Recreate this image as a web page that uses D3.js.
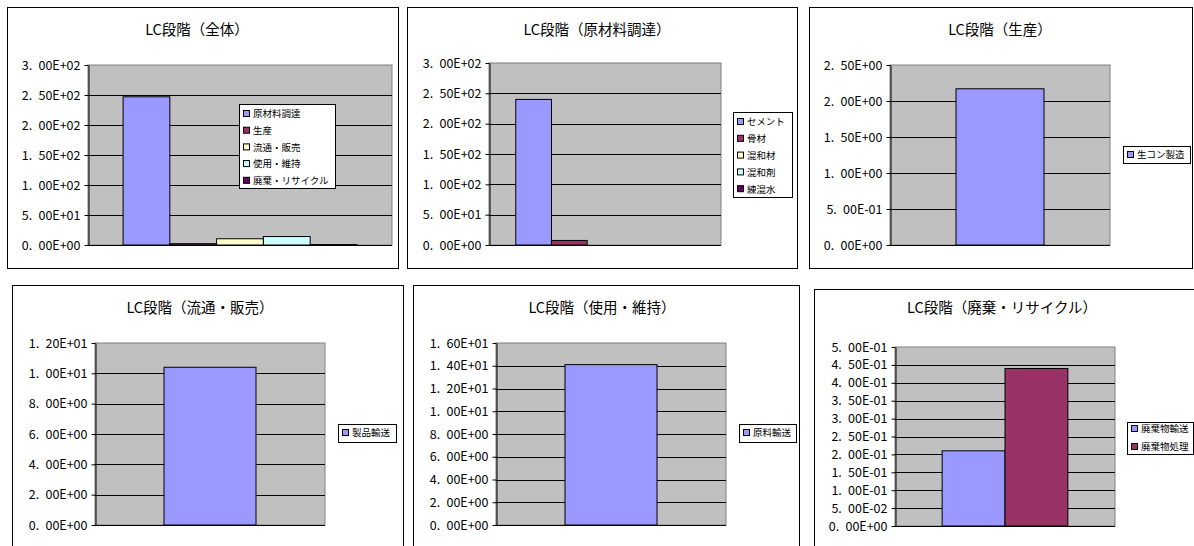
<!DOCTYPE html>
<html><head><meta charset="utf-8">
<script src="https://cdn.jsdelivr.net/npm/d3@7"></script>
<style>body{margin:0;background:#fff}svg{display:block}</style>
</head><body><svg id="c" width="1194" height="546"></svg>
<script>
// ---------- data ----------
const titles = ["LC段階（全体）","LC段階（原材料調達）","LC段階（生産）","LC段階（流通・販売）","LC段階（使用・維持）","LC段階（廃棄・リサイクル）"];

const overallSeries = ["原材料調達","生産","流通・販売","使用・維持","廃棄・リサイクル"];
const overallValues = [247, 2.17, 10.4, 14.1, 0.65];

const rawSeries = ["セメント","骨材","混和材","混和剤","練混水"];
const rawValues = [240, 7.5, 0, 0, 0];

const prodSeries = ["生コン製造"];
const prodValues = [2.17];

const distSeries = ["製品輸送"];
const distValues = [10.4];

const useSeries = ["原料輸送"];
const useValues = [14.1];

const disposalSeries = ["廃棄物輸送","廃棄物処理"];
const disposalValues = [0.21, 0.44];

const ticksOverall  = [0,50,100,150,200,250,300];
const ticksRaw      = [0,50,100,150,200,250,300];
const ticksProd     = [0,0.5,1,1.5,2,2.5];
const ticksDist     = [0,2,4,6,8,10,12];
const ticksUse      = [0,2,4,6,8,10,12,14,16];
const ticksDisposal = [0,0.05,0.1,0.15,0.2,0.25,0.3,0.35,0.4,0.45,0.5];

const palette = ["#9999FF","#993366","#FFFFCC","#CCFFFF","#660066"];

// ---------- layout ----------
const layouts = [
  {frame:[7,7,391,261],   plot:[88,65,392,245],   title:[197,30], leg:{x:239,y:104,w:96,h:84,first:114,step:16.7}},
  {frame:[407,7,390,261], plot:[489,63,721,245],  title:[597,30], leg:{x:733,y:112,w:59,h:85,first:122,step:16.8}},
  {frame:[809,7,383,261], plot:[890,65,1110,245], title:[1000,30],leg:{x:1123,y:146,w:67,h:17,first:155,step:17}},
  {frame:[12,285,391,280],plot:[95,343,325,525],  title:[200,308],leg:{x:338,y:424,w:58,h:18,first:433,step:17}},
  {frame:[413,285,386,280],plot:[496,343,726,525],title:[602,308],leg:{x:739,y:424,w:57,h:18,first:433,step:17}},
  {frame:[814,289,390,280],plot:[895,347,1115,526],title:[1002,308],leg:{x:1127,y:422,w:66,h:32,first:429,step:18}}
];

const panels = [
  {series:overallSeries, values:overallValues, ticks:ticksOverall},
  {series:rawSeries, values:rawValues, ticks:ticksRaw},
  {series:prodSeries, values:prodValues, ticks:ticksProd},
  {series:distSeries, values:distValues, ticks:ticksDist},
  {series:useSeries, values:useValues, ticks:ticksUse},
  {series:disposalSeries, values:disposalValues, ticks:ticksDisposal}
];

function fmtE(v){
  const s = v.toExponential(2);
  const [m,e] = s.split("e");
  const sign = e[0];
  const exp = String(Math.abs(+e)).padStart(2,"0");
  const [a,b] = m.split(".");
  return a + ".\u2002" + b + "E" + sign + exp;
}

const FONT = "'Noto Sans CJK JP','Noto Sans',sans-serif";
const svg = d3.select("#c");

panels.forEach((p,i)=>{
  const L = layouts[i];
  const g = svg.append("g");
  g.append("rect").attr("x",L.frame[0]+0.5).attr("y",L.frame[1]+0.5)
    .attr("width",L.frame[2]).attr("height",L.frame[3])
    .attr("fill","#fff").attr("stroke","#000").attr("stroke-width",1);
  g.append("text").attr("x",L.title[0]).attr("y",L.title[1]).attr("dy","0.35em")
    .attr("text-anchor","middle").attr("font-family",FONT).attr("font-size",14.5)
    .attr("fill","#000").text(titles[i]);

  const [x0,y0,x1,y1] = L.plot;
  const y = d3.scaleLinear().domain([0, p.ticks[p.ticks.length-1]]).range([y1,y0]);
  const x = d3.scaleBand().domain(p.series).range([x0,x1]).paddingInner(0).paddingOuter(0.75);

  g.append("rect").attr("x",x0).attr("y",y0).attr("width",x1-x0).attr("height",y1-y0)
    .attr("fill","#C0C0C0").attr("stroke","#808080").attr("stroke-width",1);

  g.append("g").selectAll("line").data(p.ticks.slice(1,-1)).join("line")
    .attr("x1",x0).attr("x2",x1)
    .attr("y1",d=>Math.round(y(d))+0.5).attr("y2",d=>Math.round(y(d))+0.5)
    .attr("stroke","#000").attr("stroke-width",1);

  g.append("g").selectAll("rect").data(p.series.filter((d,k)=>p.values[k]>0)).join("rect")
    .attr("x",d=>x(d)).attr("width",x.bandwidth())
    .attr("y",d=>y(p.values[p.series.indexOf(d)]))
    .attr("height",d=>y1-y(p.values[p.series.indexOf(d)]))
    .attr("fill",d=>palette[p.series.indexOf(d)]).attr("stroke","#000").attr("stroke-width",1);

  const ax = g.append("g").attr("transform",`translate(${x0+0.5},0)`)
    .call(d3.axisLeft(y).tickValues(p.ticks).tickFormat(fmtE).tickSize(4).tickPadding(4).tickSizeOuter(0));
  ax.select(".domain").attr("stroke","#000");
  ax.selectAll(".tick line").attr("stroke","#000");
  ax.selectAll("text").attr("font-family",FONT).attr("font-size",12.5).attr("fill","#000");
  g.append("line").attr("x1",x0).attr("x2",x1).attr("y1",y1+0.5).attr("y2",y1+0.5).attr("stroke","#000");

  const lg = L.leg;
  g.append("rect").attr("x",lg.x+0.5).attr("y",lg.y+0.5).attr("width",lg.w).attr("height",lg.h)
    .attr("fill","#fff").attr("stroke","#000");
  const items = g.append("g").selectAll("g").data(p.series).join("g")
    .attr("transform",(d,k)=>`translate(${lg.x},${lg.first + k*lg.step})`);
  items.append("rect").attr("x",4.5).attr("y",-3.5).attr("width",6).attr("height",6)
    .attr("fill",(d,k)=>palette[k]).attr("stroke","#000");
  items.append("text").attr("x",14).attr("y",0).attr("dy","0.35em")
    .attr("font-family",FONT).attr("font-size",9.5).attr("fill","#000").text(d=>d);
});
</script></body></html>
